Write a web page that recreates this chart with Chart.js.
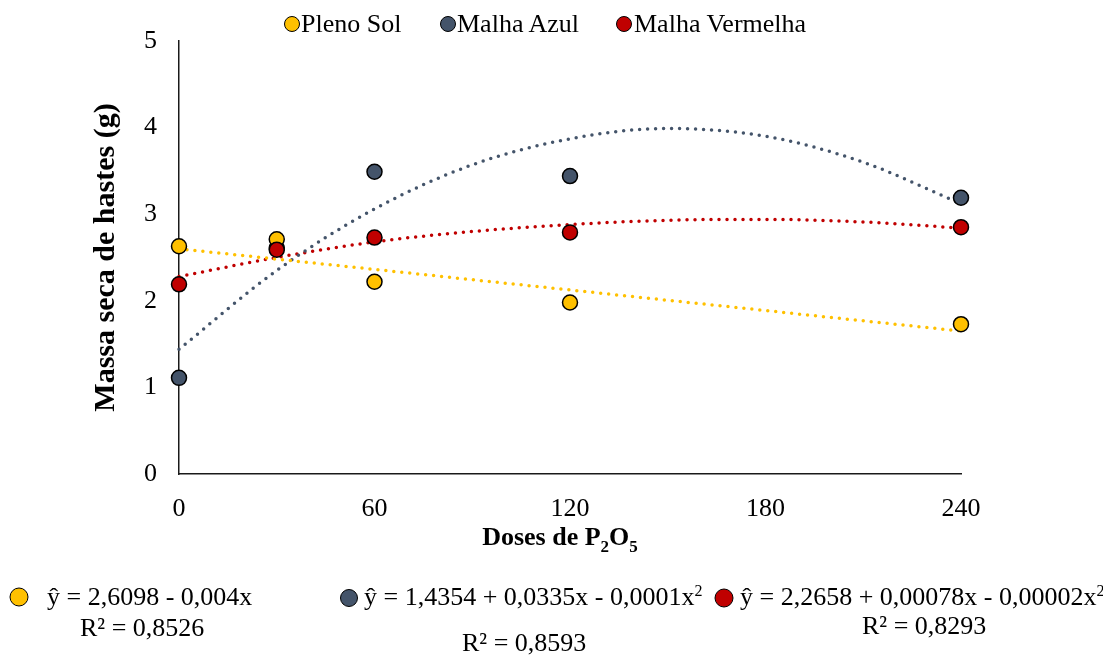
<!DOCTYPE html>
<html>
<head>
<meta charset="utf-8">
<script src="https://cdn.jsdelivr.net/npm/chart.js@4.4.0/dist/chart.umd.min.js"></script>
<style>
  body { margin: 0; background: #fff; }
  #wrap { position: relative; width: 1103px; height: 657px; font-family: 'Liberation Serif', 'Times New Roman', serif; color: #000; }
  #chart { position: absolute; left: 0; top: 0; }
  .txt { position: absolute; font-size: 26px; white-space: nowrap; line-height: 1; transform: translateY(-50%); }
  .dot { position: absolute; border-radius: 50%; border: 1.5px solid #000; box-sizing: border-box; transform: translate(-50%, -50%); }
  .eqdot { border-width: 1px; }
  sup { font-size: 16px; vertical-align: 9px; line-height: 0; }
  sub { font-size: 17px; vertical-align: -7px; line-height: 0; }
</style>
</head>
<body>
<div id="wrap">
  <canvas id="chart" width="1103" height="657"></canvas>

  <!-- legenda atas -->
  <div class="dot" style="left:292px;top:24px;width:16px;height:16px;background:#FFC000"></div>
  <div class="txt" style="left:301px;top:24px">Pleno Sol</div>
  <div class="dot" style="left:448px;top:24px;width:16px;height:16px;background:#44546A"></div>
  <div class="txt" style="left:457px;top:24px">Malha Azul</div>
  <div class="dot" style="left:624px;top:24px;width:16px;height:16px;background:#C00000"></div>
  <div class="txt" style="left:634px;top:24px">Malha Vermelha</div>

  <!-- judul sumbu x -->
  <div class="txt" style="left:560px;top:537px;font-weight:bold;transform:translate(-50%,-50%)">Doses de P<sub>2</sub>O<sub>5</sub></div>

  <!-- persamaan regresi -->
  <div class="dot eqdot" style="left:19px;top:597px;width:19px;height:19px;background:#FFC000"></div>
  <div class="txt" style="left:47px;top:597px">ŷ = 2,6098 - 0,004x</div>
  <div class="txt" style="left:80px;top:628px">R² = 0,8526</div>

  <div class="dot eqdot" style="left:349px;top:598px;width:18px;height:18px;background:#44546A"></div>
  <div class="txt" style="left:364px;top:597px">ŷ = 1,4354 + 0,0335x - 0,0001x<sup>2</sup></div>
  <div class="txt" style="left:462px;top:643px">R² = 0,8593</div>

  <div class="dot eqdot" style="left:724px;top:598px;width:19px;height:19px;background:#C00000"></div>
  <div class="txt" style="left:740px;top:597px">ŷ = 2,2658 + 0,00078x - 0,00002x<sup>2</sup></div>
  <div class="txt" style="left:862px;top:626px">R² = 0,8293</div>
</div>

<script>
// --- DATA ---
const doses = [0, 30, 60, 120, 240];
const plenoSol = [2.63, 2.71, 2.22, 1.98, 1.73];
const malhaAzul = [1.11, 2.61, 3.49, 3.44, 3.19];
const malhaVermelha = [2.19, 2.59, 2.73, 2.79, 2.85];

// garis tren
const trendPlenoX = [0, 240];
const trendPleno = [2.60, 1.65];
const trendX = [0, 30, 60, 90, 120, 150, 180, 210, 240];
const trendAzul = [1.44, 2.35, 3.06, 3.57, 3.87, 3.99, 3.90, 3.60, 3.12];
const trendVermelha = [2.28, 2.50, 2.68, 2.80, 2.88, 2.93, 2.94, 2.91, 2.84];

const xTicks = [0, 60, 120, 180, 240];

const KUNING = '#FFC000', BIRU = '#44546A', MERAH = '#C00000';

function pts(xs, ys) { return xs.map((x, i) => ({ x: x, y: ys[i] })); }

function pointSet(label, ys, color, order) {
    return {
        type: 'scatter', label: label, data: pts(doses, ys), order: order,
        backgroundColor: color, borderColor: '#000', borderWidth: 1.5,
        pointRadius: 7.5, pointHoverRadius: 7.5, clip: false
    };
}

function trendSet(label, xs, ys, color) {
    return {
        type: 'line', label: label, data: pts(xs, ys), order: 5,
        borderColor: color, borderWidth: 3.5, borderDash: [0, 8], borderCapStyle: 'round',
        pointRadius: 0, fill: false, cubicInterpolationMode: 'monotone', clip: false
    };
}

Chart.defaults.font.family = "'Liberation Serif', 'Times New Roman', serif";
Chart.defaults.color = '#000';

const ctx = document.getElementById('chart').getContext('2d');
const chart = new Chart(ctx, {
    type: 'scatter',
    data: {
        datasets: [
            pointSet('Malha Vermelha', malhaVermelha, MERAH, 0),
            pointSet('Pleno Sol', plenoSol, KUNING, 1),
            pointSet('Malha Azul', malhaAzul, BIRU, 2),
            trendSet('Tren Pleno Sol', trendPlenoX, trendPleno, KUNING),
            trendSet('Tren Malha Azul', trendX, trendAzul, BIRU),
            trendSet('Tren Malha Vermelha', trendX, trendVermelha, MERAH)
        ]
    },
    options: {
        responsive: false,
        animation: false,
        layout: { padding: { top: 41, right: 142, bottom: 133, left: 0 } },
        plugins: { legend: { display: false }, tooltip: { enabled: false } },
        scales: {
            x: {
                type: 'linear', min: 0, max: 240,
                afterBuildTicks: (axis) => { axis.ticks = xTicks.map(v => ({ value: v })); },
                afterFit: (axis) => { axis.height = 50; },
                grid: { display: false, drawTicks: false },
                border: { display: true, color: '#1a1a1a', width: 1.5 },
                ticks: { padding: 20, font: { size: 26 } }
            },
            y: {
                min: 0, max: 5,
                afterFit: (axis) => { axis.width = 179; },
                grid: { display: false, drawTicks: false },
                border: { display: true, color: '#1a1a1a', width: 1.5 },
                ticks: { stepSize: 1, padding: 22, font: { size: 26 } },
                title: {
                    display: true, text: 'Massa seca de hastes (g)',
                    font: { size: 30, weight: 'bold' }, padding: { top: 88, bottom: 0 }
                }
            }
        }
    }
});
</script>
</body>
</html>
